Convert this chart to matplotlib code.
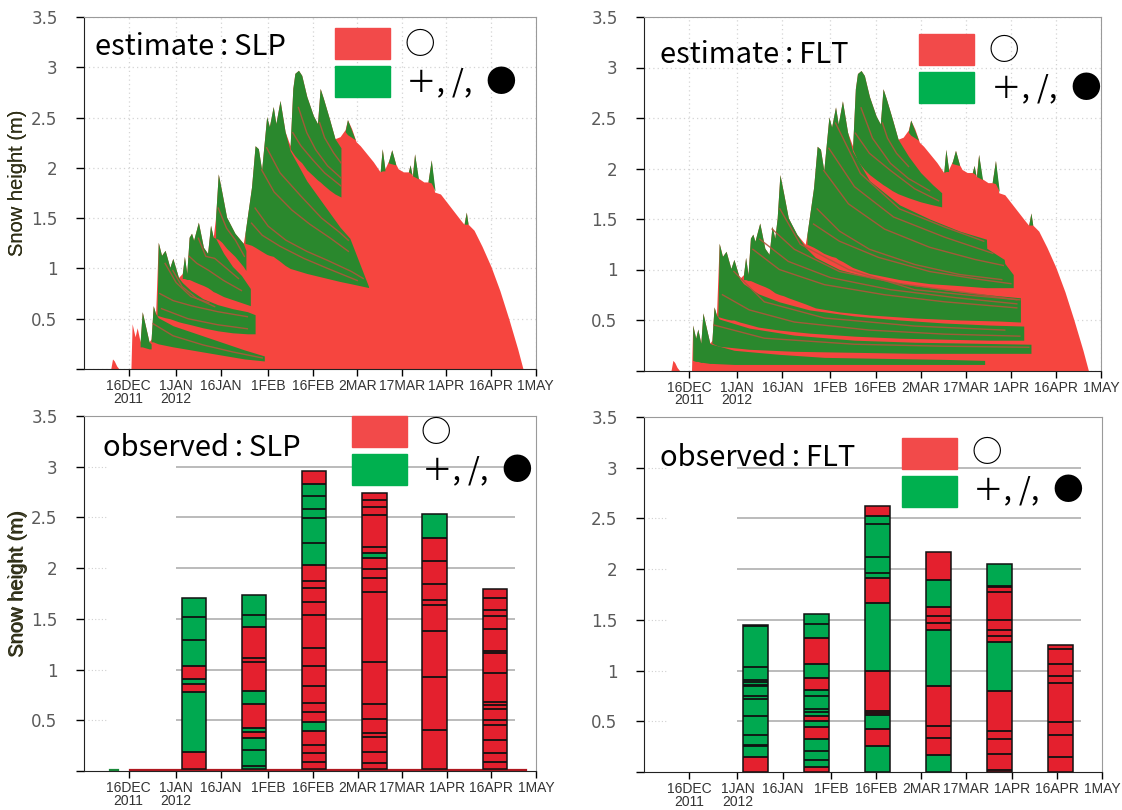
import numpy as np
import matplotlib
matplotlib.use('Agg')
import matplotlib.pyplot as plt
from matplotlib import font_manager
from matplotlib.patches import Rectangle

# ---------------- data ----------------
start = np.datetime64('2011-12-01')
tick_dates = ['2011-12-16', '2012-01-01', '2012-01-16', '2012-02-01', '2012-02-16',
              '2012-03-02', '2012-03-17', '2012-04-01', '2012-04-16', '2012-05-01']
tick_labels = ['16DEC\n2011', '1JAN\n2012', '16JAN', '1FEB', '16FEB',
               '2MAR', '17MAR', '1APR', '16APR', '1MAY']
y_ticks = [0, 0.5, 1, 1.5, 2, 2.5, 3, 3.5]
y_labels = ['', '0.5', '1', '1.5', '2', '2.5', '3', '3.5']

# estimated total snow height (days after 1 Dec 2011, m)
est_days = [9.0, 9.6, 10.2, 11.0, 11.8, 15.8, 16.2, 17.2, 17.9, 18.9, 19.6, 21.9, 22.6, 23.3,
            24.1, 25.0, 26.1, 27.3, 28.9, 29.9, 31.8, 33.1, 33.8, 34.6, 35.4, 36.2, 36.9,
            38.5, 40.2, 41.6, 42.6, 43.5, 44.3, 45.2, 46.4, 48.0, 50.8, 53.6, 54.2, 56.4,
            57.6, 58.7, 59.8, 61.5, 62.4, 63.7, 64.6, 66.0, 67.7, 69.4, 70.3, 71.0, 72.2,
            73.3, 75.0, 77.2, 78.6, 79.5, 80.6, 82.6, 84.5, 86.2, 87.9, 88.7, 90.1, 91.6,
            93.0, 95.2, 97.4, 99.7, 100.4, 101.3, 102.7, 103.6, 104.9, 105.8, 107.5,
            109.2, 109.8, 110.5, 111.3, 112.4, 114.4, 115.8, 116.9, 118.0, 120.0, 123.4,
            126.8, 127.9, 128.7, 129.3, 131.3, 134.0, 137.0, 140.0, 143.0, 146.0, 147.8]
est_hs = [0.0, 0.10, 0.08, 0.03, 0.0, 0.0, 0.45, 0.32, 0.41, 0.27, 0.57, 0.27, 0.30, 0.63,
          0.55, 1.26, 1.13, 1.18, 1.01, 1.10, 0.91, 0.95, 1.12, 0.95, 1.31, 1.35, 1.28,
          1.46, 1.21, 1.15, 1.43, 1.31, 1.51, 1.94, 1.76, 1.51, 1.35, 1.25, 1.35, 1.81,
          2.22, 2.19, 1.98, 2.51, 2.41, 2.61, 2.44, 2.67, 2.36, 2.22, 2.79, 2.94, 2.97,
          2.92, 2.71, 2.52, 2.44, 2.79, 2.69, 2.49, 2.29, 2.31, 2.38, 2.48, 2.39, 2.26,
          2.22, 2.14, 2.06, 1.96, 2.19, 1.99, 2.08, 2.18, 2.04, 1.99, 1.96,
          1.96, 2.03, 1.92, 2.14, 1.90, 1.86, 1.86, 2.08, 1.76, 1.74, 1.61,
          1.48, 1.44, 1.56, 1.44, 1.38, 1.22, 1.02, 0.78, 0.50, 0.20, 0.0]

# green (new / decomposing / graupel) layer groups, SLP estimate
slp_band_days = [
    [18.9, 19.6, 21.9, 22.6],
    [22.6, 23.3, 24.1, 25.0, 30.0, 36.0, 42.0, 48.0, 54.0, 60.7],
    [24.6, 25.0, 26.1, 27.3, 28.9, 29.9, 31.8, 33.1, 36.0, 40.0, 45.0, 50.0, 55.0, 57.6],
    [33.1, 33.8, 34.6, 35.4, 36.2, 36.9, 38.5, 40.2, 41.6, 42.6, 43.5, 44.3, 47.0, 50.0,
     53.0, 56.0],
    [44.3, 45.2, 46.4, 48.0, 50.8, 53.6, 54.5],
    [54.2, 56.4, 57.6, 58.7, 59.8, 61.5, 62.4, 63.7, 64.6, 66.0, 67.7, 69.4, 75.0, 80.6,
     86.2, 89.5, 95.8],
    [69.4, 70.3, 71.0, 72.2, 73.3, 75.0, 77.2, 78.6, 79.5, 80.6, 82.6, 84.5, 86.5],
]
slp_band_top = [
    [0.27, 0.57, 0.27, 0.25],
    [0.30, 0.63, 0.55, 0.51, 0.43, 0.37, 0.31, 0.25, 0.19, 0.13],
    [0.56, 1.26, 1.13, 1.18, 1.01, 1.10, 0.91, 0.86, 0.78, 0.70, 0.64, 0.60, 0.57, 0.54],
    [0.95, 1.12, 0.95, 1.31, 1.35, 1.28, 1.46, 1.21, 1.15, 1.43, 1.31, 1.30, 1.15, 1.02,
     0.93, 0.80],
    [1.51, 1.94, 1.76, 1.51, 1.35, 1.25, 1.18],
    [1.35, 1.81, 2.22, 2.19, 1.98, 2.51, 2.41, 2.61, 2.44, 2.67, 2.36, 2.17, 1.87, 1.64,
     1.41, 1.30, 0.82],
    [2.22, 2.79, 2.94, 2.97, 2.92, 2.71, 2.52, 2.44, 2.79, 2.69, 2.49, 2.29, 2.20],
]
slp_band_bot = [
    [0.22, 0.22, 0.20, 0.20],
    [0.27, 0.27, 0.26, 0.25, 0.22, 0.19, 0.16, 0.13, 0.10, 0.08],
    [0.53, 0.53, 0.52, 0.51, 0.50, 0.49, 0.47, 0.46, 0.44, 0.41, 0.38, 0.36, 0.35, 0.35],
    [0.90, 0.90, 0.89, 0.89, 0.88, 0.87, 0.85, 0.83, 0.81, 0.79, 0.77, 0.76, 0.72, 0.69,
     0.66, 0.63],
    [1.30, 1.29, 1.26, 1.20, 1.12, 1.02, 0.98],
    [1.25, 1.23, 1.21, 1.19, 1.17, 1.14, 1.13, 1.12, 1.10, 1.07, 1.03, 1.00, 0.95, 0.91,
     0.87, 0.85, 0.81],
    [2.19, 2.15, 2.12, 2.08, 2.05, 1.98, 1.92, 1.88, 1.86, 1.83, 1.78, 1.74, 1.71],
]
# layer boundaries seen as thin reddish lines inside the green, SLP estimate
slp_stripe_days = [
    [23.3, 30.0, 40.0, 50.0, 60.0],
    [25.5, 30.0, 36.0, 45.0, 55.0],
    [26.1, 35.0, 45.0, 55.0],
    [27.3, 31.0, 36.0, 42.0],
    [29.9, 33.0, 38.0, 44.0],
    [35.4, 38.0, 42.0, 47.0, 53.0],
    [38.5, 41.0, 44.0, 48.0, 52.0],
    [45.2, 48.0, 51.0, 54.0],
    [56.4, 60.0, 66.0, 74.0, 82.0, 92.0],
    [57.6, 62.0, 68.0, 75.0, 82.0, 90.0, 94.0],
    [59.8, 64.0, 70.0, 76.0, 83.0, 89.0],
    [61.5, 66.0, 73.0, 80.0, 86.0, 89.0],
    [70.3, 73.0, 77.0, 81.0, 86.5],
    [72.2, 75.0, 78.0, 82.0, 86.5],
    [79.3, 81.0, 84.0, 86.5],
]
slp_stripe_h = [
    [0.45, 0.33, 0.24, 0.17, 0.11],
    [0.75, 0.68, 0.63, 0.57, 0.52],
    [0.60, 0.50, 0.44, 0.40],
    [1.05, 0.86, 0.72, 0.66],
    [0.98, 0.82, 0.70, 0.62],
    [1.12, 1.05, 0.98, 0.88, 0.78],
    [1.30, 1.12, 1.10, 1.00, 0.90],
    [1.60, 1.40, 1.28, 1.12],
    [1.45, 1.33, 1.22, 1.10, 1.00, 0.88],
    [1.60, 1.42, 1.28, 1.17, 1.08, 0.97, 0.90],
    [1.98, 1.76, 1.58, 1.44, 1.30, 1.17],
    [2.20, 1.95, 1.72, 1.50, 1.36, 1.28],
    [2.35, 2.22, 2.08, 1.95, 1.82],
    [2.60, 2.35, 2.18, 2.02, 1.90],
    [2.45, 2.30, 2.15, 2.05],
]

# green layer groups, FLT estimate
flt_band_days = [
    [16.2, 17.2, 17.9, 18.9, 19.6, 21.9, 22.6, 30.0, 45.0, 60.0, 80.0, 100.0, 113.3],
    [22.6, 23.3, 24.1, 25.0, 35.0, 50.0, 70.0, 90.0, 110.0, 128.7],
    [24.6, 25.0, 26.1, 27.3, 28.9, 29.9, 31.8, 33.1, 38.0, 45.0, 55.0, 70.0, 85.0, 100.0,
     115.0, 126.3],
    [33.1, 33.8, 34.6, 35.4, 36.2, 36.9, 38.5, 40.2, 41.6, 42.6, 43.5, 44.3, 45.2, 46.4,
     48.0, 50.8, 53.6, 57.0, 65.0, 75.0, 90.0, 105.0, 118.0, 125.2],
    [54.2, 56.4, 57.6, 58.7, 59.8, 61.5, 62.4, 63.7, 64.6, 66.0, 67.7, 69.4, 75.0, 85.0,
     95.0, 105.0, 113.9, 114.0, 119.8, 120.0, 122.8],
    [69.4, 70.3, 71.0, 72.2, 73.3, 75.0, 77.2, 78.6, 79.5, 80.6, 82.6, 84.5, 88.0, 92.0,
     96.0, 99.0],
]
flt_band_top = [
    [0.45, 0.32, 0.41, 0.27, 0.57, 0.27, 0.26, 0.20, 0.16, 0.13, 0.12, 0.11, 0.10],
    [0.30, 0.63, 0.55, 0.51, 0.42, 0.35, 0.30, 0.28, 0.27, 0.26],
    [0.56, 1.26, 1.13, 1.18, 1.01, 1.10, 0.91, 0.86, 0.76, 0.68, 0.60, 0.54, 0.50, 0.47,
     0.45, 0.44],
    [0.95, 1.12, 0.95, 1.31, 1.35, 1.28, 1.46, 1.21, 1.15, 1.43, 1.31, 1.51, 1.94, 1.76,
     1.51, 1.35, 1.22, 1.12, 1.00, 0.92, 0.84, 0.78, 0.74, 0.72],
    [1.35, 1.81, 2.22, 2.19, 1.98, 2.51, 2.41, 2.61, 2.44, 2.67, 2.36, 2.17, 1.88, 1.64,
     1.50, 1.38, 1.30, 1.21, 1.10, 1.06, 0.95],
    [2.22, 2.79, 2.94, 2.97, 2.92, 2.71, 2.52, 2.44, 2.79, 2.69, 2.49, 2.29, 2.12, 1.96,
     1.84, 1.76],
]
flt_band_bot = [
    [0.10, 0.09, 0.09, 0.08, 0.08, 0.07, 0.07, 0.06, 0.06, 0.06, 0.06, 0.06, 0.06],
    [0.27, 0.26, 0.25, 0.24, 0.21, 0.19, 0.18, 0.17, 0.17, 0.17],
    [0.53, 0.53, 0.52, 0.51, 0.50, 0.50, 0.48, 0.47, 0.43, 0.40, 0.37, 0.34, 0.32, 0.31,
     0.30, 0.30],
    [0.90, 0.90, 0.89, 0.89, 0.88, 0.87, 0.85, 0.83, 0.81, 0.79, 0.77, 0.76, 0.75, 0.74,
     0.72, 0.69, 0.66, 0.62, 0.58, 0.55, 0.52, 0.50, 0.49, 0.48],
    [1.25, 1.22, 1.20, 1.18, 1.16, 1.14, 1.13, 1.12, 1.10, 1.08, 1.05, 1.02, 0.96, 0.90,
     0.86, 0.84, 0.82, 0.82, 0.82, 0.82, 0.82],
    [2.19, 2.13, 2.08, 2.03, 1.99, 1.94, 1.89, 1.86, 1.84, 1.82, 1.78, 1.75, 1.71, 1.67,
     1.64, 1.62],
]
flt_stripe_days = [
    [23.3, 40.0, 70.0, 100.0, 128.0],
    [26.1, 35.0, 50.0, 75.0, 100.0, 125.0],
    [29.9, 40.0, 60.0, 90.0, 120.0],
    [36.2, 45.0, 60.0, 80.0, 100.0, 124.0],
    [38.5, 48.0, 62.0, 82.0, 104.0, 124.0],
    [42.6, 50.0, 65.0, 85.0, 105.0, 124.0],
    [45.2, 52.0, 68.0, 90.0, 110.0, 125.0],
    [56.4, 65.0, 78.0, 95.0, 112.0, 122.0],
    [57.6, 65.0, 75.0, 90.0, 105.0, 119.0],
    [59.8, 68.0, 80.0, 95.0, 110.0, 119.5],
    [61.5, 70.0, 83.0, 100.0, 116.0],
    [63.7, 72.0, 85.0, 100.0, 113.0],
    [70.3, 75.0, 82.0, 90.0, 98.0],
    [72.2, 76.0, 82.0, 88.0, 95.0],
    [79.3, 81.0, 84.0, 88.0],
]
flt_stripe_h = [
    [0.45, 0.32, 0.26, 0.24, 0.23],
    [0.75, 0.60, 0.48, 0.40, 0.36, 0.34],
    [0.98, 0.68, 0.52, 0.44, 0.40],
    [1.20, 1.00, 0.85, 0.75, 0.68, 0.62],
    [1.30, 1.08, 0.92, 0.80, 0.72, 0.66],
    [1.40, 1.20, 0.98, 0.86, 0.78, 0.70],
    [1.60, 1.25, 1.00, 0.80, 0.74, 0.70],
    [1.45, 1.28, 1.12, 0.98, 0.90, 0.86],
    [1.60, 1.38, 1.20, 1.05, 0.95, 0.90],
    [1.98, 1.65, 1.40, 1.22, 1.10, 1.04],
    [2.20, 1.82, 1.52, 1.32, 1.16],
    [2.45, 1.95, 1.60, 1.42, 1.28],
    [2.35, 2.15, 1.98, 1.80, 1.68],
    [2.60, 2.30, 2.05, 1.90, 1.78],
    [2.45, 2.30, 2.15, 2.02],
]

# small fresh-snow spikes in March/April (same in both estimates)
spike_days = [[87.9, 88.7, 91.3], [99.7, 100.4, 101.3], [102.4, 103.6, 104.9],
              [109.2, 109.8, 110.4], [110.6, 111.3, 112.6], [115.8, 116.9, 118.2],
              [128.0, 128.7, 129.3]]
spike_top = [[2.36, 2.48, 2.28], [1.96, 2.19, 1.99], [2.05, 2.18, 2.04],
             [1.96, 2.03, 1.93], [1.92, 2.14, 1.89], [1.86, 2.08, 1.77],
             [1.44, 1.56, 1.44]]
spike_bot = [[2.36, 2.33, 2.28], [1.96, 1.97, 1.97], [2.05, 2.04, 2.03],
             [1.96, 1.95, 1.93], [1.92, 1.91, 1.89], [1.86, 1.85, 1.77],
             [1.44, 1.44, 1.44]]

# observed snow pits (days after 1 Dec 2011)
obs_days = [36.9, 57.2, 77.4, 97.7, 117.9, 138.3]

slp_obs_bounds = [
    [0.02, 0.19, 0.78, 0.86, 0.91, 1.04, 1.71],
    [0.02, 0.33, 0.38, 0.42, 0.66, 0.79, 1.42, 1.74],
    [0.02, 0.39, 0.48, 2.03, 2.83, 2.96],
    [0.02, 2.10, 2.15, 2.74],
    [0.02, 2.30, 2.53],
    [0.02, 1.79],
]
slp_obs_colors = ['RGRGRG', 'GRGRGRG', 'RGRGR', 'RGR', 'RG', 'R']
slp_obs_lines = [
    [1.29, 1.52],
    [0.05, 0.21, 1.07, 1.11, 1.54],
    [0.09, 0.18, 0.26, 0.58, 0.67, 0.84, 1.04, 1.21, 1.54, 1.67, 1.80, 1.87, 2.25, 2.49,
     2.58, 2.71],
    [0.08, 0.19, 0.34, 0.37, 0.51, 0.66, 1.07, 1.76, 1.90, 1.99, 2.21, 2.52, 2.60, 2.67],
    [0.40, 0.93, 1.38, 1.64, 1.69, 1.84, 2.07],
    [0.09, 0.18, 0.31, 0.45, 0.50, 0.61, 0.65, 0.68, 0.97, 1.16, 1.18, 1.40, 1.53, 1.59,
     1.71],
]

flt_obs_bounds = [
    [0.0, 0.145, 1.45],
    [0.0, 0.05, 0.33, 0.44, 0.50, 0.55, 0.81, 0.93, 1.06, 1.32, 1.56],
    [0.0, 0.26, 0.42, 0.56, 1.00, 1.67, 1.91, 2.52, 2.62],
    [0.0, 0.165, 0.845, 1.40, 1.625, 1.89, 2.17],
    [0.0, 0.80, 1.28, 1.83, 2.05],
    [0.0, 1.25],
]
flt_obs_colors = ['RG', 'RGRGRGRGRG', 'GRGRGRGR', 'GRGRGR', 'RGRG', 'R']
flt_obs_lines = [
    [0.26, 0.27, 0.365, 0.556, 0.72, 0.75, 0.845, 0.86, 0.89, 0.91, 1.036, 1.44],
    [0.12, 0.21, 0.59, 0.62, 0.75, 1.46],
    [0.58, 0.60, 1.96, 2.12, 2.45],
    [0.34, 0.457, 1.47, 1.54],
    [0.02, 0.18, 0.33, 0.40, 1.345, 1.40, 1.50, 1.77, 1.82],
    [0.145, 0.36, 0.49, 0.88, 0.95, 1.065, 1.21],
]

# ---------------- style ----------------
EST_RED = '#f6453f'
EST_GREEN = '#2a882d'
STRIPE = '#b0553a'
BAR_RED = '#e4202e'
BAR_GREEN = '#00a950'
KEY_RED = '#f24a4a'
KEY_GREEN = '#00b04f'
BAR_W = 8.2

W, H = 1122, 810
names = {f.name for f in font_manager.fontManager.ttflist}
if 'Liberation Sans Narrow' in names:
    xt_font, xt_size = 'Liberation Sans Narrow', 11
else:
    xt_font, xt_size = 'Liberation Sans', 10
JP = ['Noto Sans CJK JP', 'DejaVu Sans']

tick_days = [int((np.datetime64(d) - start).astype(int)) for d in tick_dates]

fig = plt.figure(figsize=(W / 100, H / 100), dpi=100)

# panel boxes in pixels: left, top, width, height
boxes = {
    'est_slp': (84, 17, 451.5, 352),
    'est_flt': (644, 17, 457, 353.5),
    'obs_slp': (84, 416, 452, 355),
    'obs_flt': (644, 417, 458, 355),
}


def make_axes(box):
    l, t, w, h = box
    return fig.add_axes([l / W, 1 - (t + h) / H, w / W, h / H])


def style_axes(ax, box, grid):
    ax.set_xlim(0, 152)
    ax.set_ylim(0, 3.5)
    ax.set_xticks(tick_days)
    ax.set_xticklabels(tick_labels, family=xt_font, fontsize=xt_size, color='#333333',
                       linespacing=0.85)
    ax.set_yticks(y_ticks)
    ax.set_yticklabels(y_labels, fontsize=12, color='#5a5a5a')
    ax.tick_params(axis='x', direction='out', length=5, width=1, pad=2.5)
    ax.tick_params(axis='y', direction='out', length=6, width=1, pad=13)
    for s in ('top', 'right'):
        ax.spines[s].set_color('#9a9a9a')
    for s in ('left', 'bottom'):
        ax.spines[s].set_color('#222222')
    if grid:
        ax.grid(True, color='#d4d4d4', linestyle=(0, (1, 2.5)), linewidth=0.9)
        ax.set_axisbelow(True)
    l, t, w, h = box
    ax.set_ylabel('Snow height (m)', family=['Liberation Sans', 'DejaVu Sans'],
                  fontsize=14.5, color='#303018')
    ax.yaxis.set_label_coords((18 - l) / w, 0.53)
    ax.yaxis.label.set_va('center')


def add_key(title, title_pos, key_pos, sym_pos):
    fig.text(title_pos[0] / W, 1 - title_pos[1] / H, title, family=JP, fontsize=21,
             ha='left', va='baseline')
    kx, ky = key_pos
    fig.patches.append(Rectangle((kx / W, 1 - (ky + 31) / H), 55 / W, 31 / H,
                                 transform=fig.transFigure, color=KEY_RED, zorder=10))
    fig.patches.append(Rectangle((kx / W, 1 - (ky + 69) / H), 55 / W, 31 / H,
                                 transform=fig.transFigure, color=KEY_GREEN, zorder=10))
    sx, sy = sym_pos
    fig.text(sx / W, 1 - sy / H, '○', family=JP, fontsize=22, ha='left', va='center')
    fig.text((sx + 2) / W, 1 - (sy + 39) / H, '＋, /,  ●', family=JP, fontsize=22,
             ha='left', va='center')


def draw_estimate(ax, bdays, btop, bbot, sdays, sh):
    ax.fill_between(est_days, 0, est_hs, color=EST_RED, lw=0, zorder=2)
    for d, tp, bt in zip(bdays, btop, bbot):
        ax.fill_between(d, bt, tp, color=EST_GREEN, lw=0, zorder=3)
    for d, tp, bt in zip(spike_days, spike_top, spike_bot):
        ax.fill_between(d, bt, tp, color=EST_GREEN, lw=0, zorder=3)
    for d, h in zip(sdays, sh):
        ax.plot(d, h, color=STRIPE, lw=1.0, alpha=0.9, zorder=4)


def draw_obs(ax, bounds, colors, lines):
    ax.hlines([0.5, 1, 1.5, 2, 2.5, 3], 31, 145, color='#a8a8a8', lw=1.1, zorder=1)
    ax.hlines([0.5, 1, 1.5, 2, 2.5, 3], 1.2, 7.7, color='#d0d0d0', lw=0.8,
              linestyles=(0, (1, 2)), zorder=1)
    for x, bnd, col, ln in zip(obs_days, bounds, colors, lines):
        lo = np.array(bnd[:-1])
        hi = np.array(bnd[1:])
        cols = [BAR_RED if c == 'R' else BAR_GREEN for c in col]
        ax.bar([x] * len(lo), hi - lo, bottom=lo, width=BAR_W, color=cols, lw=0, zorder=3)
        ax.hlines(list(bnd[1:-1]) + ln, x - BAR_W / 2, x + BAR_W / 2, color='#111111',
                  lw=1.3, zorder=4)
        ax.bar(x, bnd[-1] - bnd[0], bottom=bnd[0], width=BAR_W, fill=False,
               edgecolor='#111111', lw=1.1, zorder=5)


ax1 = make_axes(boxes['est_slp'])
draw_estimate(ax1, slp_band_days, slp_band_top, slp_band_bot, slp_stripe_days, slp_stripe_h)
style_axes(ax1, boxes['est_slp'], True)
add_key('estimate\u2009:\u2009SLP', (95, 55), (335, 28), (404, 45))

ax2 = make_axes(boxes['est_flt'])
draw_estimate(ax2, flt_band_days, flt_band_top, flt_band_bot, flt_stripe_days, flt_stripe_h)
style_axes(ax2, boxes['est_flt'], True)
add_key('estimate\u2009:\u2009FLT', (660, 63), (919, 34), (989, 51))

ax3 = make_axes(boxes['obs_slp'])
draw_obs(ax3, slp_obs_bounds, slp_obs_colors, slp_obs_lines)
ax3.plot([15.5, 148.5], [0.006, 0.006], color='#b01820', lw=1.6, zorder=2)
ax3.plot([8.8, 11.4], [0.006, 0.006], color='#1a8a3a', lw=1.6, zorder=2)
style_axes(ax3, boxes['obs_slp'], False)
add_key('observed\u2009:\u2009SLP', (103, 456), (352, 416), (420, 433))

ax4 = make_axes(boxes['obs_flt'])
draw_obs(ax4, flt_obs_bounds, flt_obs_colors, flt_obs_lines)
style_axes(ax4, boxes['obs_flt'], False)
add_key('observed\u2009:\u2009FLT', (660, 466), (902, 438), (971, 453))

fig.savefig('out.png', dpi=100)
